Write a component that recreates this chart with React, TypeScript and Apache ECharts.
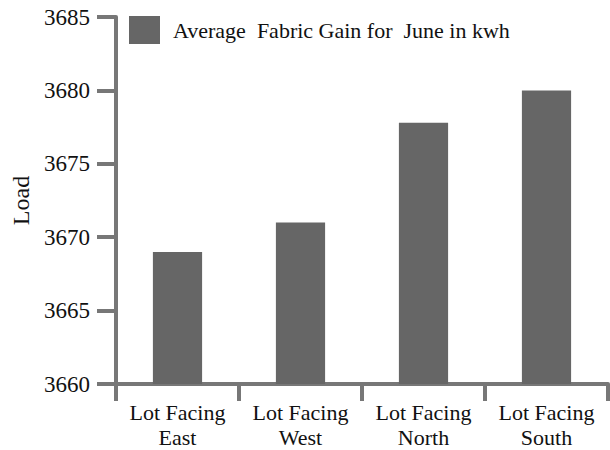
import React, { useEffect, useRef } from "react";
import * as echarts from "echarts";

const categories = ["Lot Facing\nEast", "Lot Facing\nWest", "Lot Facing\nNorth", "Lot Facing\nSouth"];
const values = [3669, 3671, 3677.8, 3680];
const seriesName = "Average  Fabric Gain for  June in kwh";
const yMin = 3660;
const yMax = 3685;
const yInterval = 5;

const FONT = "Liberation Serif";
const AXIS = "#777777";

export default function App() {
  const ref = useRef<HTMLDivElement>(null);
  useEffect(() => {
    const chart = echarts.init(ref.current!, null, { renderer: "svg" });
    chart.setOption({
      animation: false,
      textStyle: { fontFamily: FONT },
      legend: {
        left: 129,
        top: 16,
        padding: 0,
        itemWidth: 31,
        itemHeight: 28,
        itemGap: 10,
        icon: "rect",
        textStyle: { fontFamily: FONT, fontSize: 22, color: "#111", padding: [0, 0, 0, 8] },
        data: [seriesName],
      },
      grid: { left: 116, right: 2, top: 17, bottom: 62, containLabel: false },
      xAxis: {
        type: "category",
        data: categories,
        boundaryGap: true,
        axisLine: { lineStyle: { color: AXIS, width: 4 } },
        axisTick: { show: true, length: 17, lineStyle: { color: AXIS, width: 4 } },
        axisLabel: {
          color: "#111",
          fontFamily: FONT,
          fontSize: 22,
          lineHeight: 25,
          margin: 16,
          interval: 0,
        },
      },
      yAxis: {
        type: "value",
        min: yMin,
        max: yMax,
        interval: yInterval,
        name: "Load",
        nameLocation: "middle",
        nameGap: 83,
        nameTextStyle: { fontFamily: FONT, fontSize: 24, color: "#111" },
        splitLine: { show: false },
        axisLine: { show: true, lineStyle: { color: AXIS, width: 4 } },
        axisTick: { show: true, length: 19, lineStyle: { color: AXIS, width: 4 } },
        axisLabel: {
          color: "#111",
          fontFamily: FONT,
          fontSize: 23,
          margin: 26,
          formatter: (v: number) => String(v),
        },
      },
      series: [
        {
          name: seriesName,
          type: "bar",
          data: values,
          barWidth: "40%",
          itemStyle: { color: "#666666" },
        },
      ],
    });
    return () => chart.dispose();
  }, []);
  return <div ref={ref} style={{ width: 610, height: 450, position: "absolute", left: 0, top: 0 }} />;
}
